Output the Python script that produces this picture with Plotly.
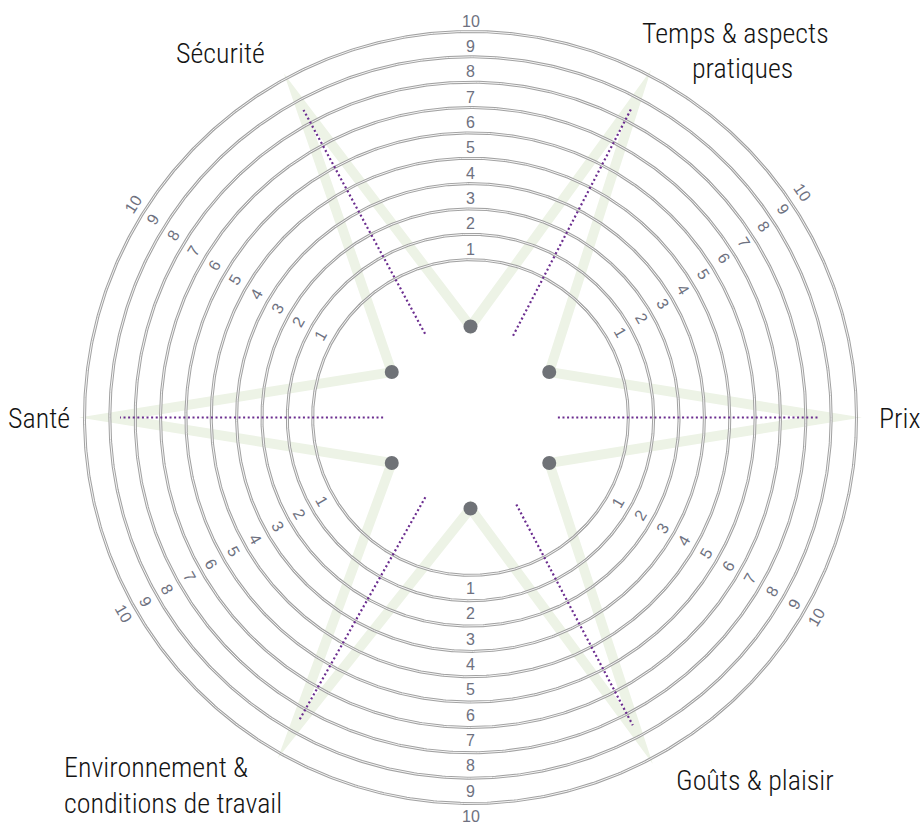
import numpy as np
import plotly.graph_objects as go

# ---------------- data ----------------
categories = ["Prix", "Temps & aspects pratiques", "Sécurité", "Santé",
              "Environnement & conditions de travail", "Goûts & plaisir"]
star_tip_values = [9, 9, 9, 9, 9, 9]            # outer vertices of the star (scale units)
star_hub_values = [-1.64, -1.64, -1.64, -1.64, -1.64, -1.64]  # inner vertices (dots)
dotted_from = [-1.78, -1.59, -1.47, -1.78, -1.61, -1.35]
dotted_to = [8.56, 8.50, 8.58, 8.60, 8.47, 8.50]
ring_levels = [1, 2, 3, 4, 5, 6, 7, 8, 9, 10]
tick_labels = ["1", "2", "3", "4", "5", "6", "7", "8", "9", "10"]

# ---------------- layout / style constants ----------------
W, H = 920, 823
CX, CY = 470.5, 417.5          # centre of the rings in page pixels
R0, STEP = 132.5, 25.35        # radial scale: value -> pixel radius
AXIS_ANGLE = [0, 62.5, 118.5, 180, 240.5, 297.8]
HUB_ANGLE = [30, 90, 150, 210, 270, 330]
HALF_W = 4.9                   # half width of the green strokes
GREEN = "#edf3e6"
RING_GRAY = "#a2a2a2"
PURPLE = "#6b2d8f"
DOT_GRAY = "#6f7277"
TICK_COLOR = "#6e7180"
LABEL_FONT = "Roboto Condensed, Roboto, Liberation Sans"


def rad(v):
    return R0 + STEP * np.asarray(v, dtype=float)


def polar_xy(v, ang):
    r = rad(v)
    a = np.deg2rad(np.asarray(ang, dtype=float))
    return r * np.cos(a), r * np.sin(a)


fig = go.Figure()

# ---------------- green star (stroked outline with mitred joins) ----------------
sx, sy = [], []
for i in range(6):
    x, y = polar_xy(star_tip_values[i], AXIS_ANGLE[i])
    sx.append(float(x)); sy.append(float(y))
    x, y = polar_xy(star_hub_values[i], HUB_ANGLE[i])
    sx.append(float(x)); sy.append(float(y))
P = np.column_stack([sx, sy])
n = len(P)
E = np.roll(P, -1, axis=0) - P
N = np.column_stack([E[:, 1], -E[:, 0]])
N = N / np.linalg.norm(N, axis=1)[:, None]


def offset(d):
    out = []
    for i in range(n):
        n1 = N[i - 1]
        n2 = N[i]
        out.append(P[i] + d * (n1 + n2) / (1 + n1 @ n2))
    out = np.array(out)
    return np.vstack([out, out[:1]])


outer = offset(HALF_W)
inner = offset(-HALF_W)
fig.add_trace(go.Scatter(x=outer[:, 0], y=outer[:, 1], mode="lines", fill="toself",
                         fillcolor=GREEN, line=dict(width=0, color=GREEN),
                         hoverinfo="skip"))
fig.add_trace(go.Scatter(x=inner[:, 0], y=inner[:, 1], mode="lines", fill="toself",
                         fillcolor="white", line=dict(width=0, color="white"),
                         hoverinfo="skip"))

# ---------------- rings ----------------
t = np.linspace(0, 360, 721)
rx, ry = [], []
for lv in ring_levels:
    x, y = polar_xy(np.full_like(t, lv, dtype=float), t)
    rx += list(x) + [None]
    ry += list(y) + [None]
fig.add_trace(go.Scatter(x=rx, y=ry, mode="lines", line=dict(color=RING_GRAY, width=3),
                         hoverinfo="skip"))
fig.add_trace(go.Scatter(x=rx, y=ry, mode="lines", line=dict(color="#f6f6f6", width=1),
                         hoverinfo="skip"))

# ---------------- dotted purple lines ----------------
dx, dy = [], []
for i in range(6):
    x0, y0 = polar_xy(dotted_from[i], AXIS_ANGLE[i])
    x1, y1 = polar_xy(dotted_to[i], AXIS_ANGLE[i])
    dx += [float(x0), float(x1), None]
    dy += [float(y0), float(y1), None]
fig.add_trace(go.Scatter(x=dx, y=dy, mode="lines",
                         line=dict(color=PURPLE, width=2.2, dash="2px,2.6px"),
                         hoverinfo="skip"))

# ---------------- hub dots ----------------
hx, hy = polar_xy(star_hub_values, HUB_ANGLE)
fig.add_trace(go.Scatter(x=hx, y=hy, mode="markers",
                         marker=dict(size=14, color=DOT_GRAY), hoverinfo="skip"))

# ---------------- tick labels (6 directions) ----------------
annotations = []
directions = [
    (lambda k: 90.0, 10.5, "up"),
    (lambda k: 270.0, 13.0, "down"),
    (lambda k: 29.6 + 0.5 * (k - 1), 14.5, "up"),
    (lambda k: 151.3 - 0.4 * (k - 1), 13.3, "up"),
    (lambda k: 330.0, 13.0, "down"),
    (lambda k: 209.5, 13.0, "down"),
]
for angf, off, kind in directions:
    for lv, txt in zip(ring_levels, tick_labels):
        phi = angf(lv)
        r = float(rad(lv)) + off
        a = np.deg2rad(phi)
        ta = 90 - phi if kind == "up" else 270 - phi
        ta = ((ta + 180) % 360) - 180
        annotations.append(dict(x=r * np.cos(a), y=r * np.sin(a), text=txt,
                                showarrow=False, textangle=ta,
                                xanchor="center", yanchor="middle",
                                font=dict(family="Liberation Sans, Arial", size=16,
                                          color=TICK_COLOR)))


# ---------------- category labels ----------------
def lab(text, px, py, anchor):
    annotations.append(dict(x=px - CX, y=CY - py, text=text, showarrow=False,
                            xanchor=anchor, yanchor="middle",
                            font=dict(family=LABEL_FONT, size=28, weight=300,
                                      color="#141414")))


lab(categories[0], 877, 418, "left")
lab("Temps & aspects", 735, 33, "center")
lab("pratiques", 742, 68, "center")
lab(categories[2], 220, 53, "center")
lab(categories[3], 72, 418, "right")
lab("Environnement &", 62, 767, "left")
lab("conditions de travail", 62, 803, "left")
lab(categories[5], 674, 780, "left")

fig.update_layout(
    width=W, height=H,
    margin=dict(l=0, r=0, t=0, b=0),
    paper_bgcolor="white", plot_bgcolor="white",
    showlegend=False,
    xaxis=dict(range=[-CX, W - CX], visible=False, fixedrange=True),
    yaxis=dict(range=[CY - H, CY], visible=False, fixedrange=True),
    annotations=annotations,
)

fig.write_html("out.html", config={"displayModeBar": False},
               post_script="document.body.style.margin='0px';")
